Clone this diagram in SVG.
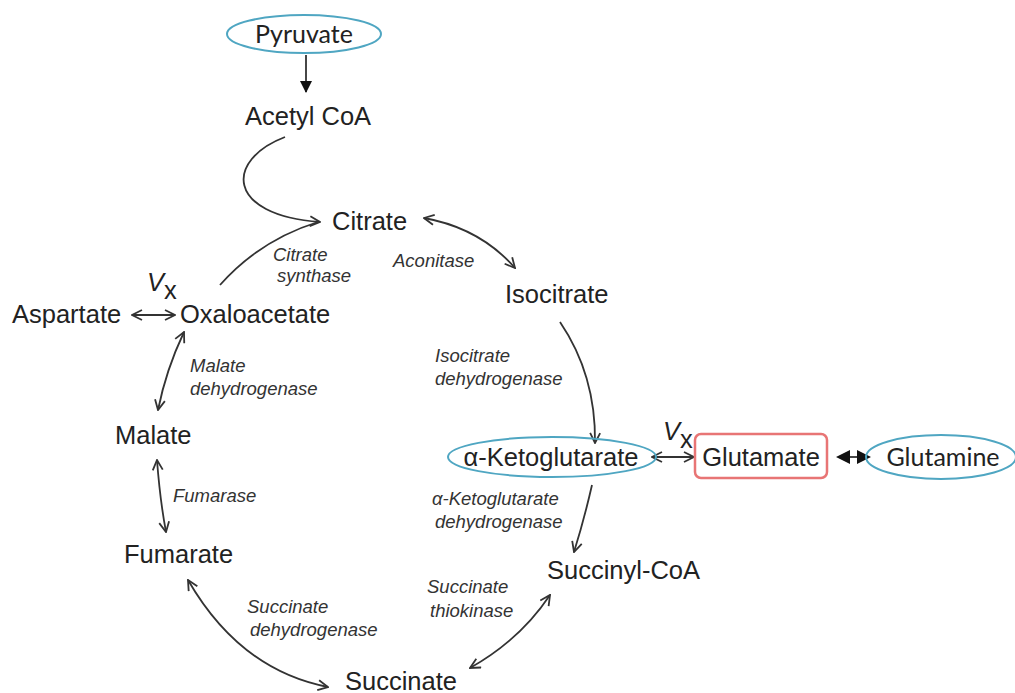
<svg xmlns="http://www.w3.org/2000/svg" width="1015" height="693" viewBox="0 0 1015 693">
<style>
.m{font-family:"Liberation Sans",Arial,sans-serif;font-size:25.5px;fill:#222}
.c{font-family:Lato,"Liberation Sans",sans-serif;font-size:25px;fill:#222}
.e{font-family:"Liberation Sans",Arial,sans-serif;font-size:18.5px;font-style:italic;fill:#333}
.ell{fill:none;stroke:#4fa6c2;stroke-width:2}
.ln{fill:none;stroke:#333;stroke-width:1.8}
.hd{fill:#111}
</style>
<defs>
<marker id="o" viewBox="0 0 12 12" refX="11" refY="6" markerWidth="12" markerHeight="12" markerUnits="userSpaceOnUse" orient="auto-start-reverse">
<path d="M1,1 L11,6 L1,11" fill="none" stroke="#333" stroke-width="1.8"/>
</marker>
<marker id="f" viewBox="0 0 12 12" refX="11" refY="6" markerWidth="12" markerHeight="12" markerUnits="userSpaceOnUse" orient="auto-start-reverse">
<path d="M0,0 L12,6 L0,12 Z" fill="#111"/>
</marker>
</defs>
<rect width="1015" height="693" fill="#fff"/>
<g id="connectors">
<path class="ln" d="M306,55 L306,92" marker-end="url(#f)"/>
<path class="ln" d="M285,137 C225,160 225,215 320,222" marker-end="url(#o)"/>
<path class="ln" d="M220,285 Q260,240 318,222"/>
<path class="ln" d="M424,218 Q480,228 515,268" marker-start="url(#o)" marker-end="url(#o)"/>
<path class="ln" d="M132,315 L175,315" marker-start="url(#o)" marker-end="url(#o)"/>
<path class="ln" d="M184,332 Q166,370 158,410" marker-start="url(#o)" marker-end="url(#o)"/>
<path class="ln" d="M560,322 Q596,375 595,443" marker-end="url(#o)"/>
<path class="ln" d="M652,457 L694,457" marker-start="url(#o)" marker-end="url(#o)"/>
<path class="ln" d="M840,457 L866,457"/>
<polygon class="hd" points="836,457 850,450 850,464"/>
<polygon class="hd" points="871,457 857,450 857,464"/>
<path class="ln" d="M157,460 Q160,500 166,532" marker-start="url(#o)" marker-end="url(#o)"/>
<path class="ln" d="M592,485 Q584,520 574,552" marker-end="url(#o)"/>
<path class="ln" d="M470,668 Q520,640 550,595" marker-start="url(#o)" marker-end="url(#o)"/>
<path class="ln" d="M188,580 Q240,670 328,687" marker-start="url(#o)" marker-end="url(#o)"/>
</g>
<g id="pyruvate"><ellipse class="ell" cx="304" cy="34" rx="77" ry="19"/><text class="c" x="304" y="43" text-anchor="middle" font-size="26">Pyruvate</text></g>
<g id="acetylcoa"><text class="m" x="245" y="125">Acetyl CoA</text></g>
<g id="citrate"><text class="m" x="332" y="230" font-size="29">Citrate</text></g>
<g id="isocitrate"><text class="m" x="505" y="303">Isocitrate</text></g>
<g id="aspartate"><text class="m" x="12" y="323" font-size="26">Aspartate</text></g>
<g id="oxaloacetate"><text class="m" x="180" y="323" font-size="26">Oxaloacetate</text></g>
<g id="malate"><text class="m" x="115" y="444">Malate</text></g>
<g id="fumarate"><text class="m" x="124" y="563">Fumarate</text></g>
<g id="akg"><ellipse class="ell" cx="552" cy="457" rx="104" ry="20"/><text class="m" x="551" y="466" text-anchor="middle">α-Ketoglutarate</text></g>
<g id="glutamate"><rect x="695" y="434" width="132" height="44" rx="6" fill="none" stroke="#e87575" stroke-width="2.5"/><text class="m" x="761" y="466" text-anchor="middle">Glutamate</text></g>
<g id="glutamine"><ellipse class="ell" cx="941" cy="457" rx="75" ry="22"/><text class="c" x="943" y="466" text-anchor="middle">Glutamine</text></g>
<g id="succinylcoa"><text class="m" x="547" y="579">Succinyl-CoA</text></g>
<g id="succinate"><text class="m" x="345" y="690">Succinate</text></g>
<g id="labels">
<text class="e" x="273" y="261">Citrate</text>
<text class="e" x="277" y="282">synthase</text>
<text class="e" x="393" y="267">Aconitase</text>
<text class="e" x="190" y="372">Malate</text>
<text class="e" x="190" y="395">dehydrogenase</text>
<text class="e" x="435" y="362">Isocitrate</text>
<text class="e" x="435" y="385">dehydrogenase</text>
<text class="e" x="173" y="502">Fumarase</text>
<text class="e" x="432" y="505">α-Ketoglutarate</text>
<text class="e" x="435" y="528">dehydrogenase</text>
<text class="e" x="427" y="593">Succinate</text>
<text class="e" x="430" y="617">thiokinase</text>
<text class="e" x="247" y="613">Succinate</text>
<text class="e" x="250" y="636">dehydrogenase</text>
<text class="m" x="147" y="291" font-style="italic" font-size="22">V</text>
<text class="m" x="164" y="299" font-size="13">x</text>
<text class="m" x="663" y="440" font-style="italic" font-size="22">V</text>
<text class="m" x="680" y="448" font-size="13">x</text>
</g>
</svg>
